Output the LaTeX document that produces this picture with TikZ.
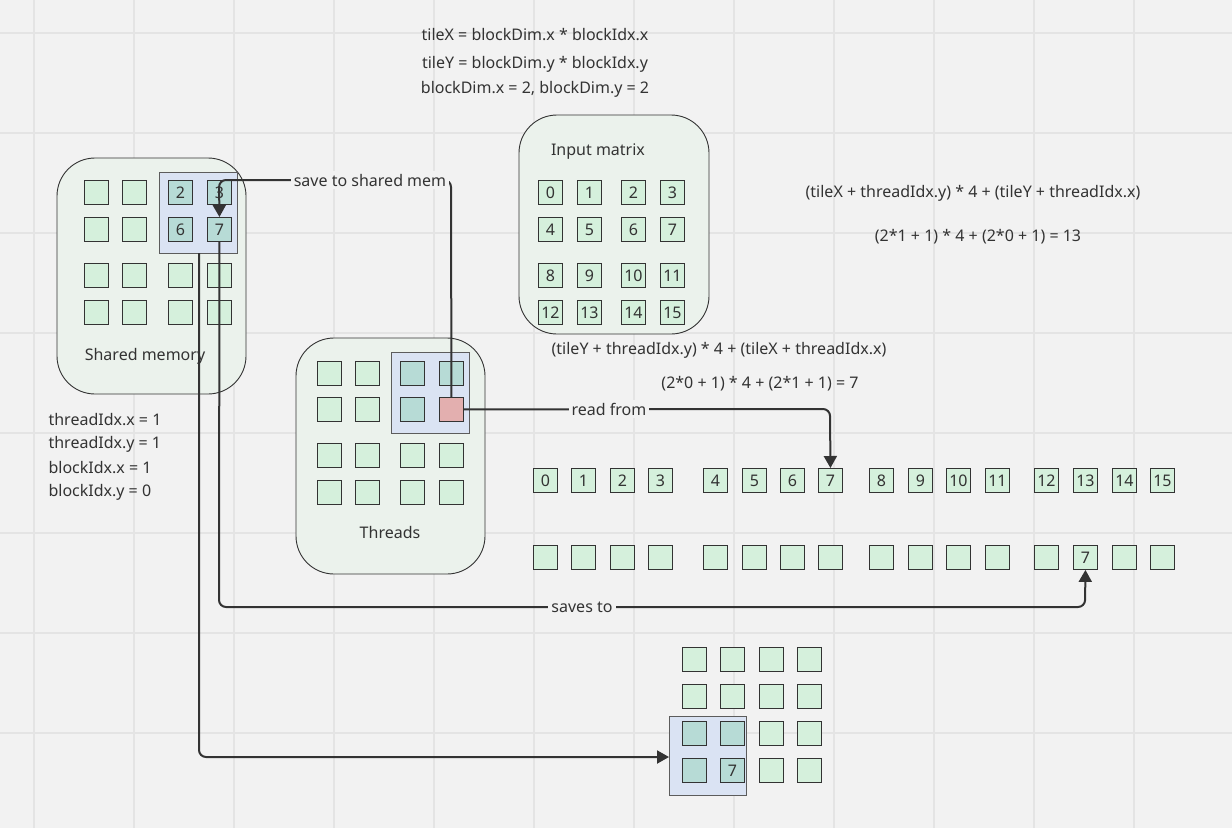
\documentclass[tikz,border=0pt]{standalone}
\usepackage{fontspec}
\setmainfont{Noto Sans}
\usetikzlibrary{arrows.meta}
\definecolor{bg}{HTML}{F2F2F2}
\definecolor{gridc}{HTML}{E4E4E4}
\definecolor{cellf}{HTML}{D5F0DC}
\definecolor{contf}{HTML}{EBF2EC}
\definecolor{bluef}{HTML}{DAE3F3}
\definecolor{redf}{HTML}{E3AFAF}
\definecolor{ln}{HTML}{333333}
\begin{document}
\begin{tikzpicture}[x=1pt,y=-1pt,
  every node/.style={font=\fontsize{16}{19}\selectfont, text=ln},
  cell/.style={draw=ln, line width=0.9pt, fill=cellf, minimum width=24pt, minimum height=24pt, inner sep=0pt, anchor=north west},
  incell/.style={cell, fill=cellf!60!bluef!85!teal},
  cont/.style={draw=ln, line width=0.9pt, fill=contf, rounded corners=38pt},
  hl/.style={draw=ln!80, line width=0.8pt, fill=bluef},
  conn/.style={draw=ln, line width=2pt, rounded corners=7pt, -{Triangle[length=12pt,width=13pt]}},
  lab/.style={fill=bg, inner sep=3pt}]
\fill[bg] (0,0) rectangle (1232,828);
\useasboundingbox (0,0) rectangle (1232,828);
\foreach \x in {34,134,...,1234} \draw[gridc, line width=1.2pt] (\x,0) -- (\x,828);
\foreach \y in {33,133,...,833} \draw[gridc, line width=1.2pt] (0,\y) -- (1232,\y);

% formulas
\node (f1) at (535,35) {tileX = blockDim.x * blockIdx.x};
\node (f2) at (535,64) {tileY = blockDim.y * blockIdx.y};
\node (f3) at (535,89) {blockDim.x = 2, blockDim.y = 2};
\node (f4) at (973,193) {(tileX + threadIdx.y) * 4 + (tileY + threadIdx.x)};
\node (f5) at (978,237) {(2*1 + 1) * 4 + (2*0 + 1) = 13};
\node (f6) at (719,350) {(tileY + threadIdx.y) * 4 + (tileX + threadIdx.x)};
\node (f7) at (760,384) {(2*0 + 1) * 4 + (2*1 + 1) = 7};
\node[anchor=west] (t1) at (45,420) {threadIdx.x = 1};
\node[anchor=west] (t2) at (45,444) {threadIdx.y = 1};
\node[anchor=west] (t3) at (45,468) {blockIdx.x = 1};
\node[anchor=west] (t4) at (45,492) {blockIdx.y = 0};

% shared memory
\draw[cont] (57,158) rectangle (246,394);
\node (shl) at (145,356) {Shared memory};
\draw[hl] (159,172) rectangle (237,253);
\foreach \c/\x in {0/84,1/122,2/168,3/207}
  \foreach \r/\y in {0/180,1/217,2/263,3/300}
    \node[cell] (s\r\c) at (\x,\y) {};
\node[incell] (s02) at (168,180) {2};
\node[incell] (s03) at (207,180) {3};
\node[incell] (s12) at (168,217) {6};
\node[incell] (s13) at (207,217) {7};
\coordinate (shb) at (199,253);

% threads
\draw[cont] (296,338) rectangle (485,574);
\node (thl) at (390,532) {Threads};
\draw[hl] (391,352) rectangle (469,433);
\foreach \c/\x in {0/317,1/355,2/400,3/439}
  \foreach \r/\y in {0/361,1/397,2/443,3/480}
    \node[cell] (t\r\c) at (\x,\y) {};
\node[incell] (t02) at (400,361) {};
\node[incell] (t03) at (439,361) {};
\node[incell] (t12) at (400,397) {};
\node[cell, fill=redf] (red) at (439,397) {};

% input matrix
\draw[cont] (519,115) rectangle (709,334);
\node (iml) at (598,152) {Input matrix};
\foreach \r/\y in {0/180,1/217,2/263,3/300}
  \foreach \c/\x in {0/538,1/577,2/621,3/660}{
    \pgfmathtruncatemacro{\n}{\r*4+\c}
    \node[cell] (m\r\c) at (\x,\y) {\n};
  }

% linear rows
\foreach \i/\x in {0/533,1/571,2/610,3/648,4/703,5/742,6/780,7/818,8/869,9/908,10/946,11/985,12/1034,13/1073,14/1112,15/1150}{
  \node[cell] (a\i) at (\x,468) {\i};
  \node[cell] (b\i) at (\x,545) {};
}
\node[cell] (b13) at (1073,545) {7};

% output grid
\draw[hl] (669,716) rectangle (746,795);
\foreach \c/\x in {0/682,1/720,2/759,3/797}
  \foreach \r/\y in {0/647,1/684,2/721,3/758}
    \node[cell] (o\r\c) at (\x,\y) {};
\node[incell] (o20) at (682,721) {};
\node[incell] (o21) at (720,721) {};
\node[incell] (o30) at (682,758) {};
\node[incell] (o31) at (720,758) {7};
\coordinate (obl) at (669,757);

% connectors
\draw[conn] (red.north) -- (451,180) -- (219,180) -- (s13.north);
\node[lab] at (370,180) {save to shared mem};
\draw[conn] (red.east) -- (830,409) -- (a7.north);
\node[lab] at (609,409) {read from};
\draw[conn] (s13.south) -- (219,607) -- (1085,607) -- (b13.south);
\node[lab] at (582,607) {saves to};
\draw[conn] (shb) -- (199,757) -- (obl);
\end{tikzpicture}
\end{document}
